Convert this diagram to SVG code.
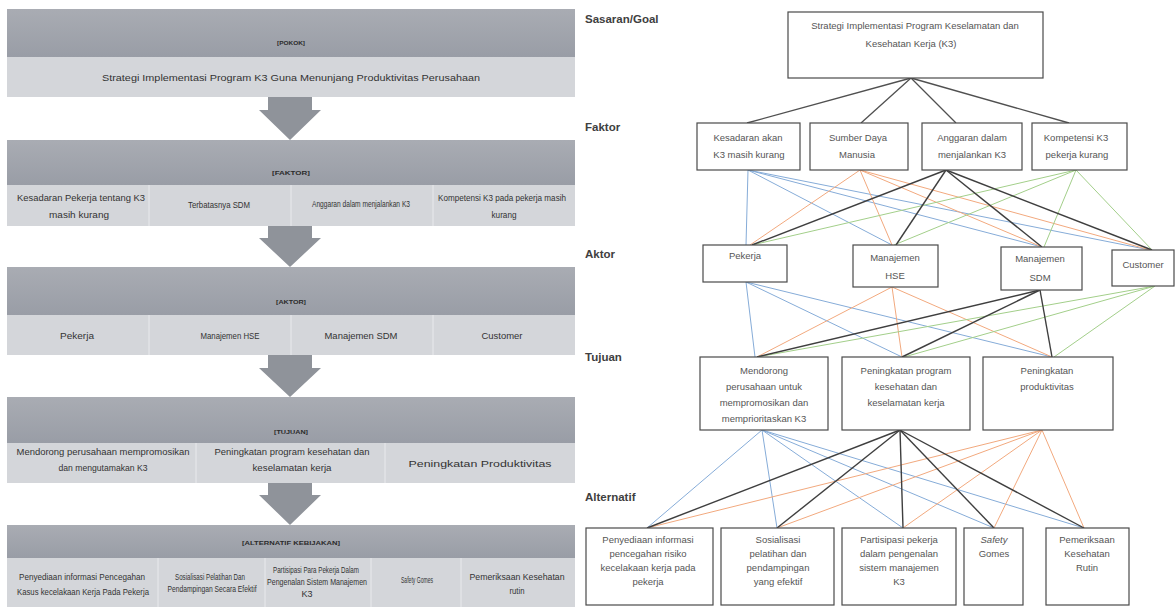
<svg xmlns="http://www.w3.org/2000/svg" width="1176" height="607" viewBox="0 0 1176 607">
<defs>
<linearGradient id="hdr" x1="0" y1="0" x2="0" y2="1"><stop offset="0" stop-color="#A9ACB3"/><stop offset="1" stop-color="#999DA6"/></linearGradient>
</defs>
<style>
.hd{fill:url(#hdr)}
.lt{fill:#D4D6DA}
.dv{stroke:#E9EAED;stroke-width:1}
.ar{fill:#8F939A}
.ht{font-family:"Liberation Sans",Arial,sans-serif;font-size:6px;font-weight:bold;fill:#2B2B2B;text-anchor:middle}
.tx{font-family:"Liberation Sans",Arial,sans-serif;font-size:9px;fill:#333;text-anchor:middle}
.lbl{font-family:"Liberation Sans",Arial,sans-serif;font-size:11.5px;font-weight:bold;fill:#404040}
.bx{fill:#fff;stroke:#4A4A4A;stroke-width:1.2}
.bt{font-family:"Liberation Sans",Arial,sans-serif;font-size:9.5px;fill:#555;text-anchor:middle}
.g{stroke:#505050;stroke-width:1.3;fill:none}
.cb{stroke:#86ACD8;stroke-width:1;fill:none}
.co{stroke:#F2A97E;stroke-width:1;fill:none}
.ck{stroke:#3F3F3F;stroke-width:1.4;fill:none}
.cg{stroke:#A3CF8A;stroke-width:1;fill:none}
</style>
<rect width="1176" height="607" fill="#fff"/>

<!-- LEFT PANEL -->
<g id="pokok">
<rect class="hd" x="7" y="9" width="568" height="48"/>
<rect class="lt" x="7" y="57" width="568" height="40"/>
<text class="ht" x="291" y="45" textLength="28" lengthAdjust="spacingAndGlyphs">[POKOK]</text>
<text class="tx" x="291" y="81" font-size="10" textLength="378" lengthAdjust="spacingAndGlyphs">Strategi Implementasi Program K3 Guna Menunjang Produktivitas Perusahaan</text>
</g>
<path id="arrow1" class="ar" d="M268,97 H312 V110 H321 L290,140 L259,110 H268 Z"/>

<g id="faktor-left">
<rect class="hd" x="7" y="140" width="568" height="45"/>
<rect class="lt" x="7" y="185" width="568" height="41"/>
<line class="dv" x1="149" y1="185" x2="149" y2="226"/>
<line class="dv" x1="291" y1="185" x2="291" y2="226"/>
<line class="dv" x1="433" y1="185" x2="433" y2="226"/>
<text class="ht" x="291" y="175" textLength="38" lengthAdjust="spacingAndGlyphs">[FAKTOR]</text>
<text class="tx" x="81" y="201" textLength="128" lengthAdjust="spacingAndGlyphs">Kesadaran Pekerja tentang K3</text>
<text class="tx" x="79" y="218" textLength="60" lengthAdjust="spacingAndGlyphs">masih kurang</text>
<text class="tx" x="219" y="208" font-size="7" textLength="62" lengthAdjust="spacingAndGlyphs">Terbatasnya SDM</text>
<text class="tx" x="361" y="207" font-size="5" fill="#666" textLength="98" lengthAdjust="spacingAndGlyphs">Anggaran dalam menjalankan K3</text>
<text class="tx" x="502" y="201" font-size="8" textLength="128" lengthAdjust="spacingAndGlyphs">Kompetensi K3 pada pekerja masih</text>
<text class="tx" x="504" y="218" font-size="8" textLength="25" lengthAdjust="spacingAndGlyphs">kurang</text>
</g>
<path id="arrow2" class="ar" d="M268,226 H312 V238 H321 L290,267 L259,238 H268 Z"/>

<g id="aktor-left">
<rect class="hd" x="7" y="267" width="568" height="48"/>
<rect class="lt" x="7" y="315" width="568" height="40"/>
<line class="dv" x1="149" y1="315" x2="149" y2="355"/>
<line class="dv" x1="291" y1="315" x2="291" y2="355"/>
<line class="dv" x1="433" y1="315" x2="433" y2="355"/>
<text class="ht" x="291" y="304" textLength="30" lengthAdjust="spacingAndGlyphs">[AKTOR]</text>
<text class="tx" x="77" y="339" textLength="34" lengthAdjust="spacingAndGlyphs">Pekerja</text>
<text class="tx" x="230" y="339" textLength="59" lengthAdjust="spacingAndGlyphs">Manajemen HSE</text>
<text class="tx" x="361" y="339" textLength="73" lengthAdjust="spacingAndGlyphs">Manajemen SDM</text>
<text class="tx" x="502" y="339" textLength="41" lengthAdjust="spacingAndGlyphs">Customer</text>
</g>
<path id="arrow3" class="ar" d="M268,355 H312 V368 H321 L290,397 L259,368 H268 Z"/>

<g id="tujuan-left">
<rect class="hd" x="7" y="397" width="568" height="46"/>
<rect class="lt" x="7" y="443" width="568" height="40"/>
<line class="dv" x1="196" y1="443" x2="196" y2="483"/>
<line class="dv" x1="385" y1="443" x2="385" y2="483"/>
<text class="ht" x="291" y="434" textLength="34" lengthAdjust="spacingAndGlyphs">[TUJUAN]</text>
<text class="tx" x="103" y="455" textLength="173" lengthAdjust="spacingAndGlyphs">Mendorong perusahaan mempromosikan</text>
<text class="tx" x="103" y="471" textLength="89" lengthAdjust="spacingAndGlyphs">dan mengutamakan K3</text>
<text class="tx" x="292" y="455" textLength="155" lengthAdjust="spacingAndGlyphs">Peningkatan program kesehatan dan</text>
<text class="tx" x="292" y="471" textLength="79" lengthAdjust="spacingAndGlyphs">keselamatan kerja</text>
<text class="tx" x="480" y="467" font-size="11.5" textLength="143" lengthAdjust="spacingAndGlyphs">Peningkatan Produktivitas</text>
</g>
<path id="arrow4" class="ar" d="M268,483 H312 V495 H321 L290,525 L259,495 H268 Z"/>

<g id="alternatif-left">
<rect class="hd" x="7" y="525" width="568" height="33"/>
<rect class="lt" x="7" y="558" width="568" height="49"/>
<line class="dv" x1="158" y1="558" x2="158" y2="607"/>
<line class="dv" x1="265" y1="558" x2="265" y2="607"/>
<line class="dv" x1="371" y1="558" x2="371" y2="607"/>
<line class="dv" x1="461" y1="558" x2="461" y2="607"/>
<text class="ht" x="291" y="545" textLength="98" lengthAdjust="spacingAndGlyphs">[ALTERNATIF KEBIJAKAN]</text>
<text class="tx" x="82" y="580" font-size="8" textLength="126" lengthAdjust="spacingAndGlyphs">Penyediaan informasi Pencegahan</text>
<text class="tx" x="83" y="595" font-size="8" textLength="132" lengthAdjust="spacingAndGlyphs">Kasus kecelakaan Kerja Pada Pekerja</text>
<text class="tx" x="210" y="580" font-size="5.5" fill="#555" textLength="70" lengthAdjust="spacingAndGlyphs">Sosialisasi Pelatihan Dan</text>
<text class="tx" x="212" y="592" font-size="5.5" fill="#555" textLength="89" lengthAdjust="spacingAndGlyphs">Pendampingan Secara Efektif</text>
<text class="tx" x="316" y="573" font-size="5.5" fill="#555" textLength="86" lengthAdjust="spacingAndGlyphs">Partisipasi Para Pekerja Dalam</text>
<text class="tx" x="317" y="585" font-size="5.5" fill="#555" textLength="100" lengthAdjust="spacingAndGlyphs">Pengenalan Sistem Manajemen</text>
<text class="tx" x="307" y="597" font-size="5.5" fill="#555">K3</text>
<text class="tx" x="417" y="583" font-size="7" textLength="32" lengthAdjust="spacingAndGlyphs">Safety Gomes</text>
<text class="tx" x="517" y="580" font-size="7" textLength="95" lengthAdjust="spacingAndGlyphs">Pemeriksaan Kesehatan</text>
<text class="tx" x="517" y="594" font-size="7" textLength="15" lengthAdjust="spacingAndGlyphs">rutin</text>
</g>

<!-- RIGHT PANEL LEVEL LABELS -->
<g id="level-labels">
<text class="lbl" x="585" y="23">Sasaran/Goal</text>
<text class="lbl" x="585" y="131">Faktor</text>
<text class="lbl" x="585" y="258">Aktor</text>
<text class="lbl" x="585" y="361">Tujuan</text>
<text class="lbl" x="585" y="501">Alternatif</text>
</g>

<!-- CONNECTORS -->
<g id="connectors">
<line class="g" x1="911" y1="78" x2="747" y2="123"/>
<line class="g" x1="911" y1="78" x2="861" y2="123"/>
<line class="g" x1="911" y1="78" x2="956" y2="123"/>
<line class="g" x1="911" y1="78" x2="1069" y2="123"/>
<!-- faktor -> aktor -->
<line class="cb" x1="748" y1="170" x2="746" y2="245"/>
<line class="cb" x1="748" y1="170" x2="892" y2="245"/>
<line class="cb" x1="748" y1="170" x2="1042" y2="247"/>
<line class="cb" x1="748" y1="170" x2="1150" y2="250"/>
<line class="co" x1="860" y1="170" x2="750" y2="245"/>
<line class="co" x1="860" y1="170" x2="892" y2="245"/>
<line class="co" x1="860" y1="170" x2="1042" y2="247"/>
<line class="co" x1="860" y1="170" x2="1150" y2="250"/>
<line class="cg" x1="1076" y1="170" x2="752" y2="245"/>
<line class="cg" x1="1076" y1="170" x2="894" y2="245"/>
<line class="cg" x1="1076" y1="170" x2="1044" y2="247"/>
<line class="cg" x1="1076" y1="170" x2="1152" y2="250"/>
<line class="ck" x1="946" y1="170" x2="752" y2="245"/>
<line class="ck" x1="946" y1="170" x2="896" y2="245"/>
<line class="ck" x1="946" y1="170" x2="1042" y2="247"/>
<line class="ck" x1="946" y1="170" x2="1152" y2="250"/>
<!-- aktor -> tujuan -->
<line class="cb" x1="746" y1="282" x2="755" y2="357"/>
<line class="cb" x1="746" y1="282" x2="902" y2="357"/>
<line class="cb" x1="746" y1="282" x2="1052" y2="357"/>
<line class="co" x1="892" y1="287" x2="757" y2="357"/>
<line class="co" x1="892" y1="287" x2="902" y2="357"/>
<line class="co" x1="892" y1="287" x2="1052" y2="357"/>
<line class="cg" x1="1155" y1="286" x2="757" y2="357"/>
<line class="cg" x1="1155" y1="286" x2="904" y2="357"/>
<line class="cg" x1="1155" y1="286" x2="1054" y2="357"/>
<line class="ck" x1="1040" y1="290" x2="757" y2="357"/>
<line class="ck" x1="1040" y1="290" x2="902" y2="357"/>
<line class="ck" x1="1040" y1="290" x2="1052" y2="357"/>
<!-- tujuan -> alternatif -->
<line class="cb" x1="762" y1="430" x2="647" y2="528"/>
<line class="cb" x1="762" y1="430" x2="777" y2="528"/>
<line class="cb" x1="762" y1="430" x2="903" y2="528"/>
<line class="cb" x1="762" y1="430" x2="994" y2="528"/>
<line class="cb" x1="762" y1="430" x2="1084" y2="528"/>
<line class="co" x1="1042" y1="430" x2="647" y2="528"/>
<line class="co" x1="1042" y1="430" x2="777" y2="528"/>
<line class="co" x1="1042" y1="430" x2="903" y2="528"/>
<line class="co" x1="1042" y1="430" x2="994" y2="528"/>
<line class="co" x1="1042" y1="430" x2="1084" y2="528"/>
<line class="ck" x1="900" y1="430" x2="647" y2="528"/>
<line class="ck" x1="900" y1="430" x2="777" y2="528"/>
<line class="ck" x1="900" y1="430" x2="903" y2="528"/>
<line class="ck" x1="900" y1="430" x2="994" y2="528"/>
<line class="ck" x1="900" y1="430" x2="1084" y2="528"/>
</g>

<!-- RIGHT PANEL NODES -->
<g id="goal">
<rect class="bx" x="788" y="12" width="255" height="66"/>
<text class="bt" x="915" y="29">Strategi Implementasi Program Keselamatan dan</text>
<text class="bt" x="911" y="47">Kesehatan Kerja (K3)</text>
</g>
<g id="f1"><rect class="bx" x="697" y="123" width="103" height="47"/>
<text class="bt" x="748" y="141">Kesadaran akan</text><text class="bt" x="749" y="158">K3 masih kurang</text></g>
<g id="f2"><rect class="bx" x="810" y="123" width="98" height="47"/>
<text class="bt" x="858" y="141">Sumber Daya</text><text class="bt" x="857" y="158">Manusia</text></g>
<g id="f3"><rect class="bx" x="922" y="123" width="100" height="47"/>
<text class="bt" x="972" y="141">Anggaran dalam</text><text class="bt" x="972" y="158">menjalankan K3</text></g>
<g id="f4"><rect class="bx" x="1032" y="123" width="95" height="47"/>
<text class="bt" x="1076" y="141">Kompetensi K3</text><text class="bt" x="1077" y="158">pekerja kurang</text></g>

<g id="a1"><rect class="bx" x="703" y="245" width="84" height="37"/>
<text class="bt" x="745" y="259">Pekerja</text></g>
<g id="a2"><rect class="bx" x="853" y="245" width="85" height="42"/>
<text class="bt" x="895" y="261">Manajemen</text><text class="bt" x="895" y="279">HSE</text></g>
<g id="a3"><rect class="bx" x="1001" y="247" width="81" height="43"/>
<text class="bt" x="1040" y="262">Manajemen</text><text class="bt" x="1040" y="281">SDM</text></g>
<g id="a4"><rect class="bx" x="1112" y="250" width="62" height="36"/>
<text class="bt" x="1143" y="268">Customer</text></g>

<g id="t1"><rect class="bx" x="700" y="357" width="128" height="73"/>
<text class="bt" x="764" y="374">Mendorong</text><text class="bt" x="764" y="390">perusahaan untuk</text><text class="bt" x="764" y="406">mempromosikan dan</text><text class="bt" x="764" y="422">memprioritaskan K3</text></g>
<g id="t2"><rect class="bx" x="842" y="357" width="128" height="73"/>
<text class="bt" x="906" y="374">Peningkatan program</text><text class="bt" x="906" y="390">kesehatan dan</text><text class="bt" x="906" y="406">keselamatan kerja</text></g>
<g id="t3"><rect class="bx" x="983" y="357" width="130" height="73"/>
<text class="bt" x="1047" y="374">Peningkatan</text><text class="bt" x="1047" y="390">produktivitas</text></g>

<g id="alt1"><rect class="bx" x="586" y="528" width="127" height="77"/>
<text class="bt" x="648" y="543">Penyediaan informasi</text><text class="bt" x="648" y="557">pencegahan risiko</text><text class="bt" x="648" y="571">kecelakaan kerja pada</text><text class="bt" x="648" y="585">pekerja</text></g>
<g id="alt2"><rect class="bx" x="721" y="528" width="113" height="77"/>
<text class="bt" x="778" y="543">Sosialisasi</text><text class="bt" x="778" y="557">pelatihan dan</text><text class="bt" x="778" y="571">pendampingan</text><text class="bt" x="778" y="585">yang efektif</text></g>
<g id="alt3"><rect class="bx" x="842" y="528" width="114" height="77"/>
<text class="bt" x="899" y="543">Partisipasi pekerja</text><text class="bt" x="899" y="557">dalam pengenalan</text><text class="bt" x="899" y="571">sistem manajemen</text><text class="bt" x="899" y="585">K3</text></g>
<g id="alt4"><rect class="bx" x="964" y="528" width="59" height="77"/>
<text class="bt" x="994" y="543" font-style="italic">Safety</text><text class="bt" x="994" y="557">Gomes</text></g>
<g id="alt5"><rect class="bx" x="1046" y="528" width="83" height="77"/>
<text class="bt" x="1087" y="543">Pemeriksaan</text><text class="bt" x="1087" y="557">Kesehatan</text><text class="bt" x="1087" y="571">Rutin</text></g>
</svg>
